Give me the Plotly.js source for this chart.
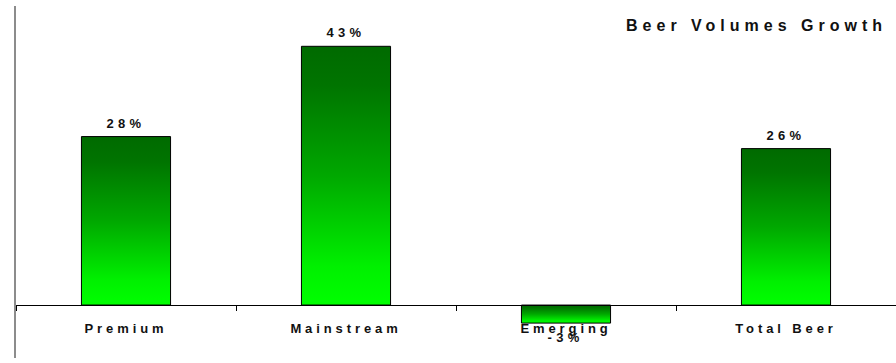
<!DOCTYPE html>
<html>
<head>
<meta charset="utf-8">
<script src="https://cdn.plot.ly/plotly-3.0.1.min.js"></script>
<style>
  html, body { margin: 0; padding: 0; background: #fff; }
  #chart { width: 896px; height: 363px; }
  /* widely tracked lettering used throughout the chart */
  #chart .gtitle { letter-spacing: 5px; }
  #chart .xtick text { letter-spacing: 3.9px; }
  #chart .annotation-text { letter-spacing: 4.3px; }
</style>
</head>
<body>
<div id="chart"></div>
<script>
// Beer volume growth by segment, in percent
const categories = ['Premium', 'Mainstream', 'Emerging', 'Total Beer'];
const growth = [28, 43, -3, 26];
const labels = ['28%', '43%', '-3%', '26%'];
const chartTitle = 'Beer Volumes Growth';

const FONT = 'Liberation Sans, Arial, sans-serif';

// y range chosen so the zero line sits in the lower part of the frame
const yMin = -8.8, yMax = 49.7;
const zeroPos = (0 - yMin) / (yMax - yMin);

const trace = {
  type: 'bar',
  x: categories,
  y: growth,
  width: 0.405,
  marker: { color: '#00b000', line: { color: '#000', width: 1 } },
  hoverinfo: 'skip'
};

// value labels: above positive bars, below negative ones
const valueLabels = categories.map(function (c, i) {
  const pos = growth[i] >= 0;
  return {
    x: c, y: growth[i], xref: 'x', yref: 'y',
    text: labels[i], showarrow: false,
    xanchor: 'center', yanchor: pos ? 'bottom' : 'top',
    yshift: pos ? 4 : -5,
    font: { family: FONT, size: 13, color: '#111', weight: 700 }
  };
});

const layout = {
  width: 896,
  height: 363,
  margin: { l: 16, r: 0, t: 6, b: 5, pad: 0 },
  paper_bgcolor: '#fff',
  plot_bgcolor: '#fff',
  showlegend: false,
  title: {
    text: chartTitle,
    font: { family: FONT, size: 16, color: '#111', weight: 700 },
    xref: 'paper', x: (887 - 16) / 880, xanchor: 'right',
    yref: 'container', y: 1 - 25.5 / 363, yanchor: 'middle'
  },
  annotations: valueLabels,
  xaxis: {
    type: 'category',
    range: [-0.5, 3.5],
    anchor: 'free',
    position: zeroPos,
    showline: true, linecolor: '#000', linewidth: 1,
    ticks: 'outside', ticklen: 5, tickcolor: '#000', tickwidth: 1,
    tickson: 'boundaries',
    ticklabelstandoff: 11,
    tickfont: { family: FONT, size: 13, color: '#111', weight: 700 },
    showgrid: false, zeroline: false, fixedrange: true
  },
  yaxis: {
    range: [yMin, yMax],
    showline: true, linecolor: '#8c8c8c', linewidth: 2,
    showticklabels: false, ticks: '',
    showgrid: false, zeroline: false, fixedrange: true
  }
};

Plotly.newPlot('chart', [trace], layout, { displayModeBar: false, staticPlot: true }).then(function (gd) {
  // vertical dark-to-bright green fill for every bar
  const svgNS = 'http://www.w3.org/2000/svg';
  const svg = gd.querySelector('.main-svg');
  let defs = svg.querySelector('defs');
  if (!defs) { defs = document.createElementNS(svgNS, 'defs'); svg.insertBefore(defs, svg.firstChild); }
  const grad = document.createElementNS(svgNS, 'linearGradient');
  grad.setAttribute('id', 'barGreen');
  grad.setAttribute('x1', '0'); grad.setAttribute('y1', '0');
  grad.setAttribute('x2', '0'); grad.setAttribute('y2', '1');
  [[0, '#006a00'], [0.15, '#007400'], [0.5, '#00a800'], [0.85, '#00f000'], [1, '#00ff00']].forEach(function (s) {
    const stop = document.createElementNS(svgNS, 'stop');
    stop.setAttribute('offset', s[0]);
    stop.setAttribute('stop-color', s[1]);
    grad.appendChild(stop);
  });
  defs.appendChild(grad);
  gd.querySelectorAll('.bars .point path').forEach(function (p) {
    p.style.fill = 'url(#barGreen)';
    p.style.fillOpacity = 1;
  });
});
</script>
</body>
</html>
